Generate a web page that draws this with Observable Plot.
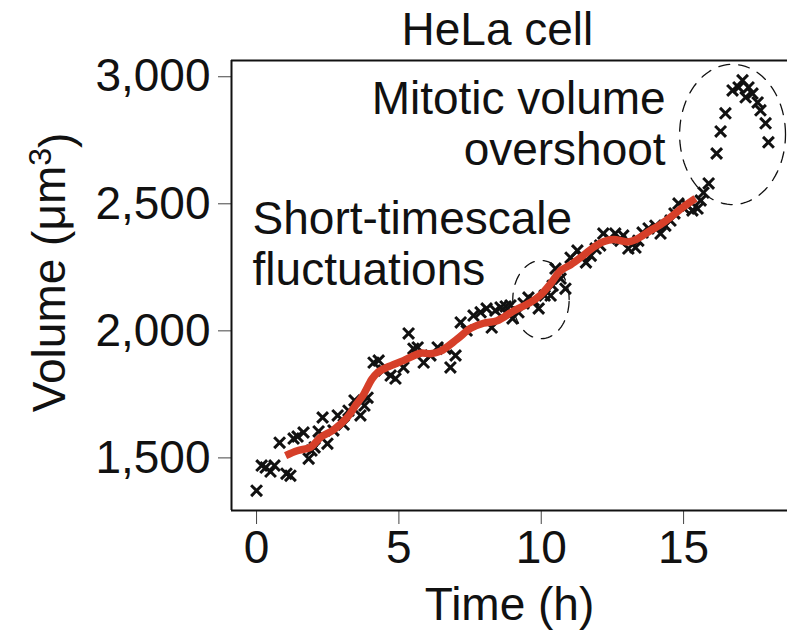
<!DOCTYPE html>
<html>
<head>
<meta charset="utf-8">
<script src="https://cdn.jsdelivr.net/npm/d3@7"></script>
<script src="https://cdn.jsdelivr.net/npm/@observablehq/plot@0.6"></script>
<style>
  html, body { margin: 0; padding: 0; background: #fff; }
  #chart svg { display: block; }
</style>
</head>
<body>
<div id="chart"></div>
<script>
// ---- Data ----
const timesH = [0.00,0.18,0.32,0.49,0.63,0.81,1.05,1.19,1.30,1.44,1.65,1.83,1.93,2.04,2.18,2.32,2.49,2.70,2.85,3.06,3.23,3.44,3.65,3.79,3.90,4.11,4.29,4.46,4.71,4.88,5.16,5.34,5.51,5.66,5.87,6.11,6.36,6.64,6.81,6.99,7.17,7.38,7.62,7.87,8.08,8.26,8.39,8.57,8.75,8.92,8.99,9.20,9.38,9.55,9.73,9.91,10.12,10.33,10.40,10.50,10.68,10.85,11.03,11.27,11.40,11.57,11.74,11.91,12.07,12.18,12.39,12.60,12.78,12.88,13.06,13.31,13.41,13.56,13.77,14.01,14.19,14.36,14.54,14.68,14.82,14.99,15.14,15.31,15.49,15.60,15.70,15.88,16.16,16.30,16.47,16.72,16.93,17.07,17.18,17.28,17.42,17.60,17.70,17.88,17.98];
const volumes = [1371,1470,1462,1446,1470,1560,1438,1430,1576,1584,1600,1497,1529,1541,1604,1659,1556,1608,1667,1631,1686,1726,1667,1706,1737,1875,1883,1844,1824,1812,1856,1990,1930,1935,1875,1903,1935,1930,1856,1903,2033,2001,2060,2073,2088,2013,2080,2092,2096,2100,2049,2073,2108,2131,2120,2088,2139,2139,2178,2245,2206,2166,2288,2316,2296,2269,2296,2324,2336,2383,2363,2383,2355,2375,2324,2328,2355,2387,2403,2414,2383,2414,2434,2462,2501,2485,2493,2474,2481,2513,2544,2580,2698,2785,2856,2946,2958,2986,2919,2958,2934,2899,2868,2817,2742];

const fitTimesH = [1.02,1.43,1.90,2.25,2.70,3.19,3.50,3.76,4.05,4.24,4.59,5.16,5.76,6.11,6.46,7.05,7.52,7.97,8.45,9.03,9.62,9.97,10.33,10.68,11.03,11.40,11.84,12.20,12.54,13.02,13.30,13.84,14.19,14.54,15.00,15.42];
const fitVolumes = [1509,1528,1542,1581,1610,1660,1710,1750,1810,1835,1857,1883,1912,1910,1920,1968,2010,2030,2040,2078,2112,2140,2186,2237,2260,2290,2329,2352,2360,2350,2358,2395,2418,2447,2488,2521];

const xTicks = [0, 5, 10, 15];
const yTicks = [1500, 2000, 2500, 3000];

const titleText = "HeLa cell";
const xLabel = "Time (h)";
const yLabel = "Volume (μm3)";
const leftNote = "Short-timescale\nfluctuations";
const leftNoteAt = [-0.14, 2344];
const rightNote = "Mitotic volume\novershoot";
const rightNoteAt = [14.37, 2817];

// dashed ellipses: centre (h, µm³) and radii
const ellCx = [9.99, 16.72];
const ellCy = [2123, 2773];
const ellRx = [0.99, 1.86];
const ellRy = [154, 276];

const xDomain = [-0.88, 18.65];
const yDomain = [1293, 3064];

// ---- Build ----
const fitData = fitTimesH.map((t, i) => ({t, v: fitVolumes[i]}));
const pts = timesH.map((t, i) => ({t, v: volumes[i]}));
const ellipsePts = [];
ellCx.forEach((cx, k) => {
  d3.range(0, 361, 4).forEach(a => {
    const r = a * Math.PI / 180;
    ellipsePts.push({k, t: cx + ellRx[k] * Math.cos(r), v: ellCy[k] + ellRy[k] * Math.sin(r)});
  });
});

const FONT = "'Liberation Sans', Arial, Helvetica, sans-serif";
const FS = 46;

const chart = Plot.plot({
  width: 787,
  height: 634,
  marginLeft: 231,
  marginTop: 60,
  marginBottom: 124,
  marginRight: 0,
  style: {fontFamily: FONT, fontSize: FS + "px", color: "#111", background: "#fff", overflow: "visible"},
  x: {domain: xDomain, ticks: xTicks, tickSize: 14, tickPadding: 6, label: null},
  y: {domain: yDomain, ticks: yTicks, tickSize: 13, tickPadding: 8, label: null, tickFormat: d3.format(",")},
  marks: [
    Plot.ruleX([xDomain[0]], {stroke: "#111", strokeWidth: 2}),
    Plot.ruleY([yDomain[0]], {stroke: "#111", strokeWidth: 2}),
    Plot.ruleY([yDomain[1]], {stroke: "#111", strokeWidth: 2}),
    Plot.line(ellipsePts, {x: "t", y: "v", z: "k", stroke: "#111", strokeWidth: 1.3, strokeDasharray: "11,9"}),
    Plot.dot(pts, {x: "t", y: "v", symbol: "times", r: 5, stroke: "#111", strokeWidth: 3}),
    Plot.line(fitData, {x: "t", y: "v", stroke: "#d63f29", strokeWidth: 7.5, curve: "catmull-rom", strokeLinecap: "butt"}),
    Plot.text([leftNote], {x: leftNoteAt[0], y: leftNoteAt[1], textAnchor: "start", lineAnchor: "middle", lineHeight: 1.1, fontSize: FS, fill: "#111"}),
    Plot.text([rightNote], {x: rightNoteAt[0], y: rightNoteAt[1], textAnchor: "end", lineAnchor: "middle", lineHeight: 1.1, fontSize: FS, fill: "#111"}),
    Plot.text([titleText], {x: 8.46, frameAnchor: "top", dy: -30, lineAnchor: "middle", fontSize: FS, fill: "#111"}),
    Plot.text([xLabel], {frameAnchor: "bottom", dy: 95, lineAnchor: "middle", fontSize: FS, fill: "#111"}),
    Plot.text([yLabel], {y: 2230, frameAnchor: "left", dx: -181, rotate: -90, textAnchor: "middle", lineAnchor: "middle", fontSize: FS, fill: "#111"})
  ]
});

// superscript on the unit
chart.querySelectorAll("text").forEach(t => {
  if (t.textContent === yLabel) {
    t.textContent = "";
    const ns = "http://www.w3.org/2000/svg";
    const a = document.createElementNS(ns, "tspan"); a.textContent = "Volume (μm";
    const b = document.createElementNS(ns, "tspan"); b.textContent = "3"; b.setAttribute("dy", "-0.45em"); b.setAttribute("font-size", "32");
    const c = document.createElementNS(ns, "tspan"); c.textContent = ")"; c.setAttribute("dy", "0.45em");
    t.append(a, b, c);
  }
});
chart.querySelectorAll("g[aria-label$='tick'] path, g[aria-label$='tick'] line").forEach(p => p.setAttribute("stroke", "#444"));
document.getElementById("chart").appendChild(chart);
</script>
</body>
</html>
